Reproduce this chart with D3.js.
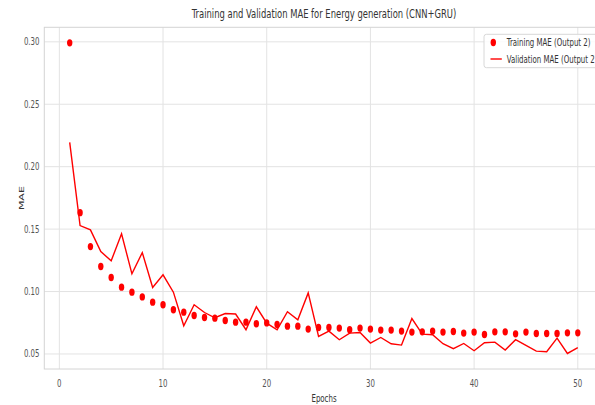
<!DOCTYPE html>
<html><head><meta charset="utf-8">
<script src="https://cdn.jsdelivr.net/npm/d3@7"></script>
<style>html,body{margin:0;padding:0;background:#fff;overflow:hidden}svg{display:block}</style>
</head><body>
<svg id="c" width="595" height="405"></svg>
<script>
const epochs = [1,2,3,4,5,6,7,8,9,10,11,12,13,14,15,16,17,18,19,20,21,22,23,24,25,26,27,28,29,30,31,32,33,34,35,36,37,38,39,40,41,42,43,44,45,46,47,48,49,50];
const trainMAE = [0.2992,0.1632,0.1360,0.1200,0.1112,0.1035,0.0995,0.0957,0.0915,0.0894,0.0854,0.0835,0.0808,0.0792,0.0787,0.0768,0.0755,0.0755,0.0742,0.0749,0.0736,0.0723,0.0723,0.0699,0.0712,0.0712,0.0707,0.0694,0.0707,0.0699,0.0691,0.0691,0.0683,0.0675,0.0677,0.0683,0.0675,0.0680,0.0667,0.0675,0.0656,0.0677,0.0677,0.0661,0.0675,0.0664,0.0664,0.0664,0.0669,0.0669];
const valMAE = [0.2195,0.1528,0.1494,0.1320,0.1246,0.1462,0.1142,0.1312,0.1032,0.1134,0.0995,0.0726,0.0894,0.0832,0.0790,0.0824,0.0820,0.0694,0.0878,0.0747,0.0694,0.0838,0.0774,0.0989,0.0640,0.0683,0.0614,0.0667,0.0672,0.0587,0.0632,0.0582,0.0571,0.0784,0.0659,0.0654,0.0582,0.0542,0.0584,0.0526,0.0590,0.0595,0.0531,0.0614,0.0568,0.0523,0.0518,0.0627,0.0504,0.0550];
const xTicks = [0,10,20,30,40,50];
const yTicks = [0.05,0.10,0.15,0.20,0.25,0.30];
const title = "Training and Validation MAE for Energy generation (CNN+GRU)";
const xLabel = "Epochs", yLabel = "MAE";
const legendLabels = ["Training MAE (Output 2)", "Validation MAE (Output 2)"];

const SQ = 0.7; // horizontal squeeze of the original image
const svg = d3.select("#c");
const font = "DejaVu Sans";
const L = 44.3, T = 27.3, B = 369;

const xExt = d3.extent(epochs), xPad = (xExt[1]-xExt[0])*0.05;
const allY = trainMAE.concat(valMAE);
const yExt = d3.extent(allY), yPad = (yExt[1]-yExt[0])*0.05;
const x = d3.scaleLinear().domain([xExt[0]-xPad, xExt[1]+xPad]).range([L, 603.2]);
const y = d3.scaleLinear().domain([yExt[0]-yPad, yExt[1]+yPad]).range([B, T]);

function squeeze(sel){ sel.each(function(){ const w=this.getComputedTextLength(); d3.select(this).attr("textLength", w*SQ).attr("lengthAdjust","spacingAndGlyphs"); }); }

// grid
const g = svg.append("g");
g.selectAll(".gx").data(xTicks).join("line")
  .attr("x1", d=>x(d)).attr("x2", d=>x(d)).attr("y1", T).attr("y2", B)
  .attr("stroke", "#e3e3e3").attr("stroke-width", 1);
g.selectAll(".gy").data(yTicks).join("line")
  .attr("x1", L).attr("x2", 603).attr("y1", d=>y(d)).attr("y2", d=>y(d))
  .attr("stroke", "#e3e3e3").attr("stroke-width", 1);
// frame
svg.append("rect").attr("x", L).attr("y", T).attr("width", 603.2-L).attr("height", B-T)
  .attr("fill","none").attr("stroke","#d4d4d4").attr("stroke-width",1);

// axis tick labels
const xt = svg.append("g").selectAll("text").data(xTicks).join("text")
  .attr("x", d=>x(d)).attr("y", B+17.5).attr("text-anchor","middle")
  .attr("font-family", font).attr("font-size", 10).attr("fill","#555")
  .text(d=>d3.format("d")(d));
squeeze(xt);
const yt = svg.append("g").selectAll("text").data(yTicks).join("text")
  .attr("x", 39.5).attr("y", d=>y(d)+3.5).attr("text-anchor","end")
  .attr("font-family", font).attr("font-size", 10).attr("fill","#555")
  .text(d=>d3.format(".2f")(d));
squeeze(yt);

// data
svg.append("g").selectAll("ellipse").data(epochs).join("ellipse")
  .attr("cx", (d,i)=>x(d)).attr("cy", (d,i)=>y(trainMAE[i]))
  .attr("rx", 2.7).attr("ry", 3.7).attr("fill", "#ff0000");
svg.append("path").datum(epochs)
  .attr("d", d3.line().x(d=>x(d)).y((d,i)=>y(valMAE[i])))
  .attr("fill","none").attr("stroke","#ff0000").attr("stroke-width",1.4);

// title and labels
const tt = svg.append("text").attr("x", 324).attr("y", 17.5).attr("text-anchor","middle")
  .attr("font-family", font).attr("font-size", 12).attr("fill","#333").text(title);
squeeze(tt);
const xl = svg.append("text").attr("x", 324).attr("y", 401.5).attr("text-anchor","middle")
  .attr("font-family", font).attr("font-size", 10).attr("fill","#333").text(xLabel);
squeeze(xl);
svg.append("text").attr("transform", `translate(23.5,${(T+B)/2}) scale(${SQ},1) rotate(-90)`)
  .attr("text-anchor","middle").attr("font-family", font).attr("font-size", 11)
  .attr("fill","#333").text(yLabel);

// legend
const lg = svg.append("g");
lg.append("rect").attr("x", 484).attr("y", 34.3).attr("width", 130).attr("height", 33.4)
  .attr("rx", 2.5).attr("fill","#fff").attr("fill-opacity",0.85).attr("stroke","#d8d8d8");
lg.append("ellipse").attr("cx", 493.3).attr("cy", 42.5).attr("rx", 2.7).attr("ry", 3.7).attr("fill","#ff0000");
lg.append("line").attr("x1", 490.5).attr("x2", 501.8).attr("y1", 59).attr("y2", 59)
  .attr("stroke","#ff0000").attr("stroke-width",1.4);
const lt = lg.selectAll("text").data(legendLabels).join("text")
  .attr("x", 506.7).attr("y", (d,i)=>46 + i*16.8)
  .attr("font-family", font).attr("font-size", 10).attr("fill","#333").text(d=>d);
squeeze(lt);
</script>
</body></html>
